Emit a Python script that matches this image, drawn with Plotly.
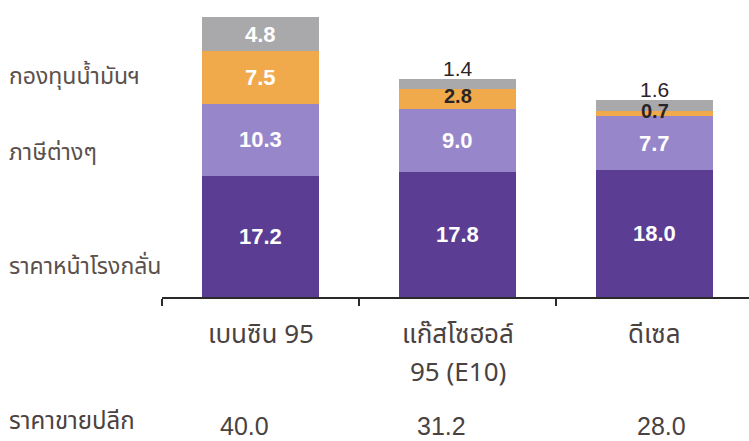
import plotly.graph_objects as go

categories = ["เบนซิน 95", "แก๊สโซฮอล์<br>95 (E10)", "ดีเซล"]
refinery = [17.2, 17.8, 18.0]
taxes = [10.3, 9.0, 7.7]
oil_fund = [7.5, 2.8, 0.7]
margin = [4.8, 1.4, 1.6]
retail = [40.0, 31.2, 28.0]

series_names = ["ราคาหน้าโรงกลั่น", "ภาษีต่างๆ", "กองทุนน้ำมันฯ", "ค่าการตลาด"]
series_vals = [refinery, taxes, oil_fund, margin]
colors = ["#5b3e93", "#9886cb", "#f1aa4b", "#a9a8ab"]

W, H = 749, 441
ML, MR, MT, MB = 162, 0, 10, 144
PW, PH = W - ML - MR, H - MT - MB
UNIT = 197.0
xr = [-0.5, -0.5 + PW / UNIT]
yr = [0, PH / 7.03]

def px_to_paper_x(px):
    return (px - ML) / PW

def py_to_paper_y(py):
    return (H - MB - py) / PH

fig = go.Figure()
x = list(range(len(categories)))
for name, vals, col in zip(series_names, series_vals, colors):
    fig.add_trace(go.Bar(x=x, y=vals, name=name, marker=dict(color=col, line=dict(width=0)),
                         width=0.594, hoverinfo="skip"))

THAI = "Noto Sans Thai, Liberation Sans, Arial, sans-serif"
NUMF = "Liberation Sans, Arial, sans-serif"
ann = []
# segment labels
for i in range(len(categories)):
    base = 0
    for s, vals in enumerate(series_vals):
        v = vals[i]
        mid = base + v / 2
        top = base + v
        label = f"{v:.1f}"
        if v >= 4:
            ann.append(dict(x=i, y=mid, xref="x", yref="y", text=f"<b>{label}</b>", showarrow=False,
                            font=dict(family=NUMF, size=22, color="#ffffff")))
        elif s == 3:
            ann.append(dict(x=i, y=top, xref="x", yref="y", text=label, showarrow=False,
                            yanchor="bottom", yshift=-3,
                            font=dict(family=NUMF, size=21, color="#2a2426")))
        else:
            ann.append(dict(x=i, y=mid, xref="x", yref="y", text=f"<b>{label}</b>", showarrow=False,
                            yshift=3,
                            font=dict(family=NUMF, size=20, color="#2a2426")))
        base = top

# category labels (each line placed separately)
line_y = [335, 373]
for i, c in enumerate(categories):
    for k, part in enumerate(c.split("<br>")):
        ann.append(dict(x=i, y=py_to_paper_y(line_y[k]), xref="x", yref="paper", text=part,
                        showarrow=False, yanchor="middle", align="center",
                        font=dict(family=THAI, size=26, color="#4a4240")))

# retail prices row
retail_shift = [-16, -16, 7]
for i, r in enumerate(retail):
    ann.append(dict(x=i, y=py_to_paper_y(426), xref="x", yref="paper", text=f"{r:.1f}", showarrow=False,
                    xshift=retail_shift[i], yanchor="middle",
                    font=dict(family=NUMF, size=25, color="#4a4240")))

ann.append(dict(x=px_to_paper_x(7), y=py_to_paper_y(422), xref="paper", yref="paper", text="ราคาขายปลีก",
                showarrow=False, xanchor="left", yanchor="middle",
                font=dict(family=THAI, size=24, color="#4a4240")))

# left series labels
left_labels = [("กองทุนน้ำมันฯ", 77), ("ภาษีต่างๆ", 153), ("ราคาหน้าโรงกลั่น", 267)]
for t, py in left_labels:
    ann.append(dict(x=px_to_paper_x(7), y=py_to_paper_y(py), xref="paper", yref="paper", text=t,
                    showarrow=False, xanchor="left", yanchor="middle",
                    font=dict(family=THAI, size=23, color="#5a504c")))

fig.update_layout(
    width=W, height=H, barmode="stack", showlegend=False,
    paper_bgcolor="white", plot_bgcolor="white",
    margin=dict(l=ML, r=MR, t=MT, b=MB),
    annotations=ann, bargap=0,
)
fig.update_xaxes(range=xr, showline=True, linecolor="#2a2a2a", linewidth=2,
                 tickmode="array", tickvals=[-0.5, 0.5, 1.5], ticktext=["", "", ""],
                 ticks="outside", ticklen=7, tickwidth=2, tickcolor="#2a2a2a",
                 showgrid=False, zeroline=False, fixedrange=True)
fig.update_yaxes(range=yr, visible=False, showgrid=False, zeroline=False, fixedrange=True)

fig.write_html("out.html", config={"displayModeBar": False},
               post_script="document.body.style.margin='0px';document.body.style.overflow='hidden';")
